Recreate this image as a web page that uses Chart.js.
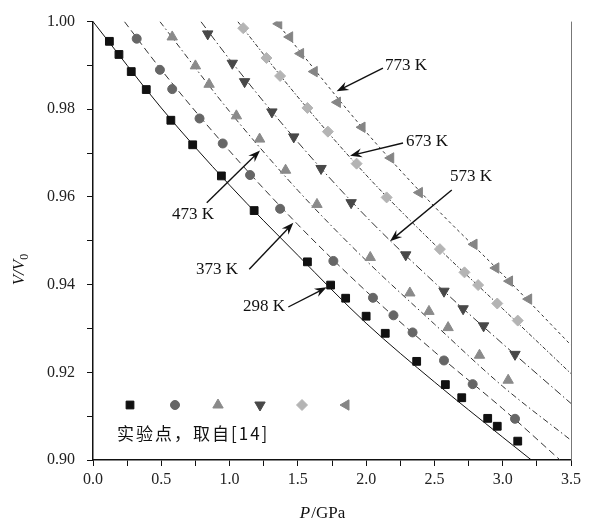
<!DOCTYPE html>
<html>
<head>
<meta charset="utf-8">
<script src="https://cdn.jsdelivr.net/npm/chart.js@4.4.1/dist/chart.umd.min.js"></script>
<style>
    html, body { margin: 0; padding: 0; background: #fff; }
    #wrap { width: 598px; height: 526px; position: relative; }
</style>
</head>
<body>
<div id="wrap"><canvas id="pvChart"></canvas></div>
<script>
// experimental points (P in GPa, V/V0)
const p298 = [0.12, 0.19, 0.28, 0.39, 0.57, 0.73, 0.94, 1.18, 1.57, 1.74, 1.85, 2.00, 2.14, 2.37, 2.58, 2.70, 2.89, 2.96, 3.11];
const v298 = [0.9955, 0.9925, 0.9886, 0.9845, 0.9775, 0.9719, 0.9648, 0.9569, 0.9452, 0.9399, 0.9369, 0.9328, 0.9289, 0.9225, 0.9172, 0.9142, 0.9095, 0.9077, 0.9043];
const p373 = [0.32, 0.49, 0.58, 0.78, 0.95, 1.15, 1.37, 1.76, 2.05, 2.20, 2.34, 2.57, 2.78, 3.09];
const v373 = [0.9961, 0.9890, 0.9846, 0.9779, 0.9722, 0.9650, 0.9573, 0.9454, 0.9370, 0.9330, 0.9291, 0.9227, 0.9173, 0.9094];
const p473 = [0.58, 0.75, 0.85, 1.05, 1.22, 1.41, 1.64, 2.03, 2.32, 2.46, 2.60, 2.83, 3.04];
const v473 = [0.9965, 0.9899, 0.9857, 0.9785, 0.9732, 0.9661, 0.9583, 0.9462, 0.9381, 0.9339, 0.9302, 0.9239, 0.9182];
const p573 = [0.84, 1.02, 1.11, 1.31, 1.47, 1.67, 1.89, 2.29, 2.57, 2.71, 2.86, 3.09];
const v573 = [0.9972, 0.9905, 0.9863, 0.9794, 0.9737, 0.9665, 0.9587, 0.9468, 0.9385, 0.9345, 0.9306, 0.9241];
const p673 = [1.10, 1.27, 1.37, 1.57, 1.72, 1.93, 2.15, 2.54, 2.72, 2.82, 2.96, 3.11];
const v673 = [0.9985, 0.9917, 0.9876, 0.9803, 0.9749, 0.9676, 0.9599, 0.9481, 0.9428, 0.9399, 0.9357, 0.9318];
const p773 = [1.36, 1.44, 1.52, 1.62, 1.79, 1.97, 2.18, 2.39, 2.79, 2.95, 3.05, 3.19];
const v773 = [0.9995, 0.9965, 0.9927, 0.9886, 0.9816, 0.9759, 0.9689, 0.9610, 0.9492, 0.9438, 0.9408, 0.9367];

// calculated curves
const fitP298 = [0, 0.5, 1.0, 1.5, 2.0, 2.5, 3.0, 3.21];
const fitV298 = [1.000, 0.9803, 0.9627, 0.9467, 0.9312, 0.9178, 0.9052, 0.9000];
const fitP373 = [0.23, 0.5, 1.0, 1.5, 2.0, 2.5, 3.0, 3.42];
const fitV373 = [1.000, 0.9890, 0.9705, 0.9537, 0.9385, 0.9247, 0.9117, 0.9000];
const fitP473 = [0.49, 1.0, 1.5, 2.0, 2.5, 3.0, 3.5];
const fitV473 = [1.000, 0.9795, 0.9615, 0.9455, 0.9310, 0.9168, 0.9045];
const fitP573 = [0.79, 1.0, 1.5, 2.0, 2.5, 3.0, 3.5];
const fitV573 = [1.000, 0.9914, 0.9725, 0.9555, 0.9405, 0.9265, 0.9129];
const fitP673 = [1.06, 1.5, 2.0, 2.5, 3.0, 3.5];
const fitV673 = [1.000, 0.9828, 0.9650, 0.9492, 0.9345, 0.9197];
const fitP773 = [1.34, 1.5, 2.0, 2.5, 3.0, 3.5];
const fitV773 = [1.000, 0.9938, 0.9748, 0.9578, 0.9423, 0.9262];

// temperature labels with arrows
const noteText = ["298 K", "373 K", "473 K", "573 K", "673 K", "773 K"];
const noteP = [1.098, 0.754, 0.578, 2.614, 2.292, 2.138];
const noteV = [0.9349, 0.9435, 0.9559, 0.9646, 0.9727, 0.9899];
const tailP = [1.430, 1.144, 0.833, 2.627, 2.270, 2.123];
const tailV = [0.9349, 0.9435, 0.9587, 0.9616, 0.9723, 0.9894];
const tipP = [1.711, 1.467, 1.223, 2.175, 1.882, 1.784];
const tipV = [0.9394, 0.9541, 0.9706, 0.9499, 0.9694, 0.9841];

const legendText = "实验点，取自[14]";

function pts(px, vy) {
    return px.map((p, i) => ({ x: p, y: vy[i] }));
}

const markers = [
    { style: "rect", rot: 0, r: 5.5, color: "#111111" },
    { style: "circle", rot: 0, r: 4.5, color: "#666666" },
    { style: "triangle", rot: 0, r: 6, color: "#8a8a8a" },
    { style: "triangle", rot: 180, r: 6, color: "#484848" },
    { style: "rectRot", rot: 0, r: 5.5, color: "#b4b4b4" },
    { style: "triangle", rot: -90, r: 6, color: "#858585" }
];

const expSets = [pts(p298, v298), pts(p373, v373), pts(p473, v473), pts(p573, v573), pts(p673, v673), pts(p773, v773)];
const fitSets = [pts(fitP298, fitV298), pts(fitP373, fitV373), pts(fitP473, fitV473), pts(fitP573, fitV573), pts(fitP673, fitV673), pts(fitP773, fitV773)];
const dashes = [[], [7, 4], [6, 3, 1.5, 3], [8, 3, 1.5, 3], [4, 2, 1.5, 2], [3, 3]];

let datasets = [];
expSets.forEach((d, i) => {
    let m = markers[i];
    datasets.push({
        label: noteText[i],
        data: d,
        showLine: false,
        pointStyle: m.style,
        pointRotation: m.rot,
        pointRadius: m.r,
        pointBackgroundColor: m.color,
        pointBorderColor: m.color,
        pointBorderWidth: 1
    });
});
fitSets.forEach((d, i) => {
    datasets.push({
        label: noteText[i] + " fit",
        data: d,
        showLine: true,
        fill: false,
        pointRadius: 0,
        borderColor: i === 0 ? "#111" : "#333",
        borderWidth: 1,
        borderDash: dashes[i],
        cubicInterpolationMode: "monotone"
    });
});

const overlay = {
    id: "overlay",
    afterDraw(chart) {
        const ctx = chart.ctx;
        const a = chart.chartArea;
        const xs = chart.scales.x, ys = chart.scales.y;
        ctx.save();

        // right frame line
        ctx.strokeStyle = "#777";
        ctx.lineWidth = 1;
        ctx.beginPath();
        ctx.moveTo(a.right + 0.5, a.top);
        ctx.lineTo(a.right + 0.5, a.bottom);
        ctx.stroke();

        // labels + arrows
        ctx.font = "17px 'Liberation Serif'";
        ctx.fillStyle = "#111";
        ctx.textBaseline = "middle";
        ctx.textAlign = "left";
        noteText.forEach((t, i) => {
            ctx.fillText(t, xs.getPixelForValue(noteP[i]), ys.getPixelForValue(noteV[i]));
            let x0 = xs.getPixelForValue(tailP[i]), y0 = ys.getPixelForValue(tailV[i]);
            let x1 = xs.getPixelForValue(tipP[i]), y1 = ys.getPixelForValue(tipV[i]);
            let ang = Math.atan2(y1 - y0, x1 - x0);
            ctx.strokeStyle = "#111";
            ctx.lineWidth = 1.4;
            ctx.beginPath();
            ctx.moveTo(x0, y0);
            ctx.lineTo(x1 - Math.cos(ang) * 6, y1 - Math.sin(ang) * 6);
            ctx.stroke();
            ctx.beginPath();
            ctx.moveTo(x1, y1);
            ctx.lineTo(x1 - Math.cos(ang) * 12 + Math.sin(ang) * 4.5, y1 - Math.sin(ang) * 12 - Math.cos(ang) * 4.5);
            ctx.lineTo(x1 - Math.cos(ang) * 8, y1 - Math.sin(ang) * 8);
            ctx.lineTo(x1 - Math.cos(ang) * 12 - Math.sin(ang) * 4.5, y1 - Math.sin(ang) * 12 + Math.cos(ang) * 4.5);
            ctx.closePath();
            ctx.fill();
        });

        // legend block
        let legX = [37, 82, 125, 167, 209, 253];
        markers.forEach((m, i) => {
            ctx.fillStyle = m.color;
            ctx.strokeStyle = m.color;
            ctx.lineWidth = 1;
            Chart.helpers.drawPoint(ctx, { pointStyle: m.style, rotation: m.rot, radius: m.r, borderWidth: 1 }, a.left + legX[i], a.bottom - 55);
        });
        ctx.fillStyle = "#111";
        ctx.font = "17px 'Noto Sans CJK SC'";
        ctx.letterSpacing = "2px";
        ctx.fillText(legendText, a.left + 24, a.bottom - 26);
        ctx.letterSpacing = "0px";

        // axis titles
        ctx.textBaseline = "alphabetic";
        let italic = "italic 17px 'Liberation Serif'";
        let plain = "17px 'Liberation Serif'";
        ctx.font = italic;
        let wP = ctx.measureText("P").width;
        ctx.font = plain;
        let wG = ctx.measureText("/GPa").width;
        let cx = (a.left + a.right) / 2 - 10 - (wP + wG) / 2;
        ctx.font = italic;
        ctx.fillText("P", cx, 518);
        ctx.font = plain;
        ctx.fillText("/GPa", cx + wP + 1, 518);

        ctx.translate(24, a.top + 248);
        ctx.rotate(-Math.PI / 2);
        ctx.font = italic;
        let wV = ctx.measureText("V/V").width;
        ctx.font = "12px 'Liberation Serif'";
        let w0 = ctx.measureText("0").width;
        let sx = -(wV + w0) / 2;
        ctx.font = italic;
        ctx.fillText("V/V", sx, 0);
        ctx.font = "12px 'Liberation Serif'";
        ctx.fillText("0", sx + wV, 4);
        ctx.restore();
    }
};

const tickFont = { family: "Liberation Serif", size: 16 };

new Chart(document.getElementById("pvChart"), {
    type: "scatter",
    data: { datasets: datasets },
    options: {
        responsive: true,
        maintainAspectRatio: false,
        animation: false,
        layout: { padding: { top: 16, right: 27, left: 0, bottom: 0 } },
        plugins: { legend: { display: false }, tooltip: { enabled: false } },
        scales: {
            x: {
                type: "linear",
                min: 0,
                max: 3.5,
                border: { display: true, color: "#111", width: 1.5 },
                grid: { display: true, drawOnChartArea: false, drawTicks: true, tickLength: 6, tickColor: "#111" },
                ticks: {
                    stepSize: 0.25,
                    autoSkip: false,
                    maxRotation: 0,
                    padding: 4,
                    color: "#222",
                    font: tickFont,
                    callback: v => (Math.round(v * 100) % 50 === 0 ? v.toFixed(1) : "")
                },
                afterFit: s => { s.height = 66; }
            },
            y: {
                type: "linear",
                min: 0.9,
                max: 1.0,
                border: { display: true, color: "#111", width: 1.5 },
                grid: { display: true, drawOnChartArea: false, drawTicks: true, tickLength: 6, tickColor: "#111" },
                ticks: {
                    stepSize: 0.01,
                    autoSkip: false,
                    padding: 12,
                    color: "#222",
                    font: tickFont,
                    callback: v => (Math.round(v * 100) % 2 === 0 ? v.toFixed(2) : "")
                },
                afterFit: s => { s.width = 93; }
            }
        }
    },
    plugins: [overlay]
});
</script>
</body>
</html>
